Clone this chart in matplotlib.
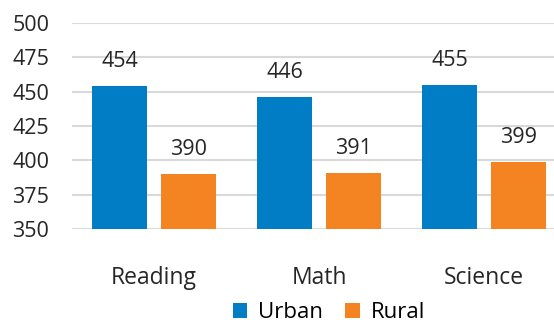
import numpy as np
import matplotlib.pyplot as plt

plt.rcParams['font.family'] = ['Open Sans', 'DejaVu Sans']
plt.rcParams['font.size'] = 16

subjects = ['Reading', 'Math', 'Science']
urban = [454, 446, 455]
rural = [390, 391, 399]

blue = '#007DC5'
orange = '#F38421'

fig = plt.figure(figsize=(5.54, 3.25), dpi=100)
# plot area runs a bit past the right edge
ax = fig.add_axes([71.5 / 554, 1 - 229 / 325, 495 / 554, 206 / 325])

x = np.arange(len(subjects))
w = 0.333
off = 0.209
b1 = ax.bar(x - off, urban, w, color=blue, label='Urban', zorder=3)
b2 = ax.bar(x + off, rural, w, color=orange, label='Rural', zorder=3)

for bars, vals in ((b1, urban), (b2, rural)):
    for rect, v in zip(bars, vals):
        ax.annotate(str(v), (rect.get_x() + rect.get_width() / 2, v),
                    xytext=(0, 10), textcoords='offset points',
                    ha='center', va='bottom', fontsize=15.5, color='#262626')

ax.set_ylim(350, 500)
ax.set_yticks(np.arange(350, 501, 25))
ax.set_xlim(-0.5, 2.5)
ax.set_xticks(x)
ax.set_xticklabels(subjects)
ax.yaxis.grid(True, color='#D9D9D9', linewidth=1.5, zorder=0)
for s in ax.spines.values():
    s.set_visible(False)
ax.tick_params(axis='both', length=0, colors='#262626')
ax.tick_params(axis='y', pad=16, labelsize=15.5)
ax.tick_params(axis='x', pad=27, labelsize=16.5)

fig.legend(handles=[b1, b2], loc='center', bbox_to_anchor=(329 / 554, 1 - 313 / 325),
           ncol=2, frameon=False, fontsize=16, handlelength=0.65, handleheight=0.65,
           handletextpad=0.5, columnspacing=1.0, borderpad=0.2)

fig.savefig('out.png', dpi=100)
